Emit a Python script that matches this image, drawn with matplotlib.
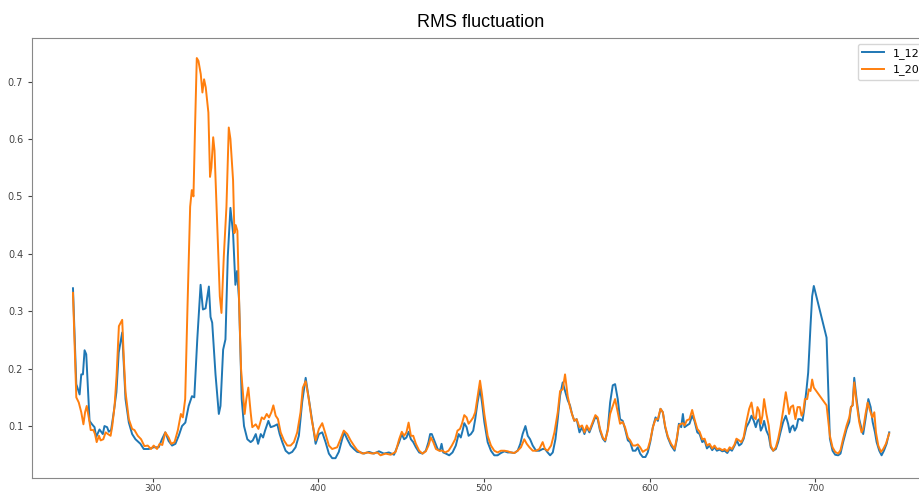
import matplotlib.pyplot as plt

# Valores (RMSF por residuo)
x_1_12 = [252, 254, 256, 257, 258, 259, 260, 262, 263.5, 265, 266, 268, 270, 271, 272.6, 273.6, 275,
          276.6, 278.2, 279.6, 281.7, 283.7, 285.7, 287.7, 289.7, 292.7, 294.7, 297.7, 300.7, 303.7,
          305.7, 307.7, 309.7, 311.8, 313.8, 315.8, 317.8, 319.8, 321.8, 323.8, 325.2, 327.0, 329.0,
          330.4, 332.0, 334.0, 335.0, 336.0, 338.0, 340.0, 341.0, 342.6, 344.0, 345.4, 347.0, 348.6,
          350.0, 351.0, 352.2, 353.8, 355.2, 357.2, 359.2, 360.5, 362.3, 363.7, 365.3, 366.7, 367.9,
          369.9, 371.3, 373.3, 375.3, 376.7, 378.3, 380.3, 382.3, 384.3, 386.3, 388.3, 390.3, 392.4,
          394.4, 396.4, 398.4, 400.4, 402.4, 404.4, 406.4, 408.4, 410.4, 412.4, 414.4, 415.6, 417.5,
          419.5, 421.5, 423.5, 425.6, 427.6, 430.6, 433.6, 436.6, 439.6, 442.6, 445.7, 448.8, 450.4,
          451.8, 453.2, 454.5, 455.9, 457.3, 458.9, 460.9, 462.9, 464.9, 466.5, 467.5, 468.5, 470,
          472, 473.4, 474.4, 475.4, 477, 479, 481, 483, 484.7, 486, 487.1, 488.1, 489.5, 490.7, 492.1,
          493.5, 494.7, 496.1, 497.6, 498.8, 500.2, 502.2, 504.2, 506.2, 508.2, 510.2, 512.3, 514.3,
          516.3, 518.3, 520.3, 521.9, 523.3, 525, 526.4, 527.8, 529.4, 531.4, 533.4, 535.4, 536.8,
          538.4, 539.9, 541.5, 543.1, 544.5, 545.9, 547.5, 548.9, 550.5, 551.9, 553.1, 554.5, 555.9,
          557.6, 559.2, 560.6, 562, 563.6, 565.2, 567.2, 568.6, 570, 571.7, 573.1, 574.7, 576.1,
          577.7, 579.1, 580.7, 582.1, 583.7, 585.1, 586.8, 588.2, 589.8, 591.4, 592.8, 594.2, 595.8,
          597.4, 598.8, 600.3, 601.9, 603.5, 604.9, 606.5, 607.9, 609.3, 610.9, 612.9, 615, 616.4,
          617.6, 619, 620, 621, 622.4, 624, 625.6, 627, 628.7, 630.1, 631.7, 633.1, 634.5, 636.1,
          637.7, 639.1, 640.5, 642.1, 643.8, 645.2, 646.8, 648.2, 649.6, 651.2, 652.6, 653.9, 655.3,
          656.7, 658.3, 660, 661.4, 662.8, 664, 665, 666, 667, 668, 669, 670.4, 671.8, 673, 674.5,
          676.1, 677.5, 678.9, 680.5, 682.1, 683.5, 684.5, 685.5, 686.5, 687.5, 688.6, 689.6, 691,
          692.2, 693.2, 694.6, 695.6, 697, 698, 699, 706.7, 708.7, 710.3, 711.9, 713.7, 715.1, 716.7,
          718.8, 720.4, 721.4, 722.4, 723.4, 724.8, 726.4, 727.8, 728.8, 730.2, 731.9, 733.3, 734.5,
          735.9, 736.9, 738.5, 739.9, 741.3, 742.9, 744.5]
y_1_12 = [0.340, 0.173, 0.155, 0.190, 0.190, 0.232, 0.225, 0.109, 0.103, 0.098, 0.081, 0.094, 0.086,
          0.100, 0.098, 0.090, 0.093, 0.124, 0.159, 0.228, 0.263, 0.147, 0.106, 0.086, 0.077, 0.069,
          0.060, 0.060, 0.063, 0.063, 0.077, 0.089, 0.074, 0.066, 0.069, 0.083, 0.100, 0.106, 0.135,
          0.152, 0.150, 0.251, 0.346, 0.303, 0.305, 0.343, 0.290, 0.280, 0.190, 0.121, 0.135, 0.233,
          0.251, 0.395, 0.480, 0.436, 0.346, 0.370, 0.320, 0.147, 0.100, 0.077, 0.072, 0.075, 0.086,
          0.069, 0.086, 0.080, 0.092, 0.109, 0.098, 0.100, 0.103, 0.086, 0.072, 0.057, 0.052, 0.055,
          0.063, 0.083, 0.142, 0.184, 0.146, 0.107, 0.069, 0.086, 0.089, 0.072, 0.052, 0.044, 0.044,
          0.055, 0.077, 0.089, 0.077, 0.066, 0.060, 0.055, 0.054, 0.052, 0.055, 0.052, 0.056, 0.052,
          0.054, 0.050, 0.072, 0.086, 0.077, 0.080, 0.090, 0.077, 0.072, 0.063, 0.054, 0.052, 0.057,
          0.072, 0.086, 0.086, 0.075, 0.060, 0.057, 0.069, 0.054, 0.052, 0.049, 0.054, 0.066, 0.086,
          0.080, 0.092, 0.105, 0.098, 0.083, 0.086, 0.092, 0.112, 0.141, 0.165, 0.141, 0.107, 0.072,
          0.057, 0.049, 0.049, 0.053, 0.056, 0.054, 0.054, 0.053, 0.057, 0.069, 0.086, 0.100, 0.083,
          0.077, 0.066, 0.057, 0.057, 0.060, 0.060, 0.054, 0.049, 0.054, 0.077, 0.112, 0.153, 0.176,
          0.161, 0.145, 0.136, 0.121, 0.109, 0.112, 0.089, 0.098, 0.086, 0.098, 0.089, 0.101, 0.116,
          0.112, 0.092, 0.078, 0.073, 0.095, 0.141, 0.171, 0.173, 0.147, 0.112, 0.109, 0.095, 0.075,
          0.072, 0.057, 0.057, 0.063, 0.052, 0.046, 0.046, 0.054, 0.072, 0.098, 0.115, 0.109, 0.130,
          0.124, 0.098, 0.080, 0.066, 0.057, 0.077, 0.104, 0.098, 0.121, 0.098, 0.101, 0.104, 0.118,
          0.109, 0.089, 0.086, 0.072, 0.075, 0.061, 0.066, 0.058, 0.063, 0.057, 0.059, 0.056, 0.057,
          0.053, 0.060, 0.057, 0.066, 0.075, 0.066, 0.069, 0.078, 0.098, 0.107, 0.118, 0.109, 0.098,
          0.109, 0.112, 0.092, 0.098, 0.109, 0.092, 0.083, 0.063, 0.057, 0.060, 0.072, 0.089, 0.107,
          0.118, 0.104, 0.089, 0.098, 0.101, 0.092, 0.098, 0.112, 0.112, 0.109, 0.129, 0.164, 0.193,
          0.274, 0.326, 0.344, 0.254, 0.078, 0.057, 0.050, 0.049, 0.052, 0.072, 0.095, 0.107, 0.133,
          0.136, 0.184, 0.147, 0.112, 0.095, 0.086, 0.112, 0.147, 0.133, 0.107, 0.089, 0.072, 0.057,
          0.049, 0.057, 0.069, 0.089]

x_1_20 = [252, 254, 255.5, 257, 258.3, 259.3, 260.3, 261.7, 262.7, 264.3, 265.3, 266.3, 267.7, 268.7,
          270.3, 271.7, 273.1, 274.7, 275.7, 277.1, 278.3, 279.7, 281.7, 282.7, 283.7, 285.7, 287.7,
          289.1, 291.1, 293.1, 295.1, 297.1, 299.1, 300.7, 302.7, 304.3, 305.9, 307.7, 309.7, 311.3,
          313.3, 315.3, 317.1, 318.3, 319.7, 321.1, 322.7, 323.7, 324.7, 325.7, 326.7, 327.7, 329.1,
          330.1, 331.1, 332.1, 333.7, 334.7, 335.5, 336.6, 337.4, 339.0, 340.6, 341.6, 343.0, 344.6,
          346.0, 347.0, 348.6, 349.4, 350.2, 351.2, 352.4, 353.4, 354.2, 355.6, 356.6, 357.8, 359.2,
          360.2, 362.3, 363.9, 365.9, 367.3, 368.9, 370.3, 371.7, 372.9, 374.3, 375.7, 377.3, 379.3,
          381.3, 383.3, 385.3, 387.3, 389.3, 390.7, 392.4, 394.0, 396, 398.4, 400.4, 402.4, 404.4,
          406.4, 408.4, 411.4, 413.4, 415.4, 417.5, 419.5, 421.5, 423.5, 426.6, 429.6, 432.6, 435.6,
          437.6, 440.6, 443.7, 446.7, 448.8, 450.4, 451.8, 453.2, 454.5, 455.9, 457.3, 458.9, 460.9,
          462.9, 464.9, 466.5, 467.9, 469.4, 471, 473, 475, 476.6, 478.6, 480.6, 482.6, 484, 485.5,
          486.7, 488.1, 489.5, 490.7, 492.1, 493.5, 494.7, 496.1, 497.6, 498.8, 500.2, 502.2, 504.2,
          506.2, 508.2, 510.2, 512.3, 514.3, 516.3, 518.3, 520.3, 522.3, 524.3, 525.8, 527.4, 529.4,
          531.4, 533.4, 535.4, 536.8, 538.4, 540.5, 542.5, 544.5, 545.9, 547.5, 548.9, 550.5, 551.9,
          553.1, 554.5, 555.9, 557.6, 559.2, 560.6, 562, 563.6, 565.2, 567.2, 568.6, 570, 571.7,
          573.1, 574.7, 576.1, 577.7, 579.1, 580.7, 582.1, 583.7, 585.1, 586.8, 588.2, 589.8, 591.4,
          592.8, 594.2, 595.8, 597.4, 598.8, 600.3, 601.9, 603.5, 604.9, 606.5, 607.9, 609.3, 610.9,
          612.9, 615, 616.4, 617.6, 619, 620, 621, 622.4, 624, 625.6, 627, 628.7, 630.1, 631.7,
          633.1, 634.5, 636.1, 637.7, 639.1, 640.5, 642.1, 643.8, 645.2, 646.8, 648.2, 649.6, 651.2,
          652.3, 653.9, 655.3, 656.7, 658.3, 660, 661.4, 662.8, 664, 665, 666, 667, 668, 669, 670.4,
          671.8, 673, 674.5, 676.1, 677.5, 678.9, 680.5, 682.1, 683.1, 684.1, 685.1, 686.5, 687.9,
          689.2, 690.6, 691.6, 692.6, 693.6, 695, 696, 697, 698, 699, 706.7, 708.7, 710.3, 711.9,
          713.7, 715.1, 716.7, 718.8, 720.4, 721.4, 722.4, 723.4, 724.8, 726.4, 727.8, 728.8, 730.2,
          731.5, 732.9, 734.3, 735.5, 736.5, 737.9, 739.5, 740.9, 742.5, 744.5]
y_1_20 = [0.332, 0.150, 0.141, 0.124, 0.103, 0.124, 0.135, 0.112, 0.093, 0.093, 0.086, 0.072, 0.083,
          0.075, 0.077, 0.089, 0.086, 0.083, 0.100, 0.135, 0.187, 0.274, 0.285, 0.216, 0.159, 0.112,
          0.095, 0.093, 0.083, 0.077, 0.065, 0.066, 0.060, 0.066, 0.060, 0.069, 0.067, 0.089, 0.080,
          0.069, 0.072, 0.093, 0.121, 0.115, 0.147, 0.308, 0.482, 0.511, 0.500, 0.626, 0.741, 0.736,
          0.713, 0.681, 0.704, 0.690, 0.646, 0.534, 0.550, 0.603, 0.580, 0.453, 0.326, 0.297, 0.395,
          0.482, 0.620, 0.600, 0.528, 0.436, 0.450, 0.440, 0.300, 0.200, 0.170, 0.121, 0.147, 0.167,
          0.124, 0.098, 0.103, 0.095, 0.115, 0.112, 0.121, 0.115, 0.124, 0.136, 0.118, 0.112, 0.089,
          0.075, 0.066, 0.066, 0.072, 0.089, 0.124, 0.167, 0.178, 0.152, 0.112, 0.075, 0.095, 0.105,
          0.086, 0.066, 0.060, 0.063, 0.077, 0.092, 0.086, 0.075, 0.066, 0.058, 0.052, 0.054, 0.052,
          0.054, 0.049, 0.052, 0.050, 0.055, 0.077, 0.090, 0.083, 0.089, 0.106, 0.083, 0.083, 0.069,
          0.057, 0.052, 0.056, 0.066, 0.080, 0.072, 0.060, 0.057, 0.057, 0.054, 0.057, 0.066, 0.077,
          0.092, 0.095, 0.104, 0.119, 0.115, 0.104, 0.109, 0.115, 0.124, 0.150, 0.179, 0.155, 0.121,
          0.083, 0.066, 0.057, 0.054, 0.057, 0.057, 0.056, 0.054, 0.053, 0.057, 0.063, 0.077, 0.069,
          0.063, 0.057, 0.057, 0.060, 0.072, 0.060, 0.057, 0.066, 0.089, 0.124, 0.161, 0.164, 0.190,
          0.152, 0.133, 0.121, 0.109, 0.112, 0.098, 0.101, 0.089, 0.101, 0.092, 0.104, 0.119, 0.115,
          0.095, 0.080, 0.075, 0.092, 0.121, 0.135, 0.147, 0.124, 0.104, 0.107, 0.098, 0.080, 0.075,
          0.066, 0.066, 0.068, 0.063, 0.055, 0.058, 0.060, 0.075, 0.098, 0.112, 0.112, 0.130, 0.124,
          0.100, 0.082, 0.069, 0.060, 0.080, 0.101, 0.104, 0.105, 0.101, 0.110, 0.112, 0.128, 0.112,
          0.095, 0.090, 0.077, 0.078, 0.066, 0.069, 0.061, 0.066, 0.060, 0.061, 0.058, 0.060, 0.056,
          0.063, 0.060, 0.068, 0.078, 0.075, 0.072, 0.081, 0.107, 0.130, 0.141, 0.115, 0.112, 0.133,
          0.127, 0.104, 0.118, 0.147, 0.121, 0.101, 0.066, 0.057, 0.063, 0.078, 0.098, 0.127, 0.159,
          0.141, 0.121, 0.133, 0.136, 0.112, 0.133, 0.133, 0.118, 0.124, 0.147, 0.147, 0.164, 0.161,
          0.181, 0.167, 0.136, 0.083, 0.063, 0.055, 0.052, 0.058, 0.078, 0.101, 0.115, 0.133, 0.136,
          0.176, 0.141, 0.107, 0.089, 0.095, 0.121, 0.141, 0.127, 0.115, 0.124, 0.089, 0.066, 0.055,
          0.060, 0.069, 0.087]

fig = plt.figure(figsize=(9.19, 4.94), dpi=100)
# el eje se sale un poco por la derecha, como en la imagen original (recortada)
ax = fig.add_axes([0.035, 0.032, 0.977, 0.891])

ax.plot(x_1_12, y_1_12, color='#1f77b4', linewidth=1.4, label='1_12')
ax.plot(x_1_20, y_1_20, color='#ff7f0e', linewidth=1.4, label='1_20')

ax.set_title("RMS fluctuation", fontsize=13, family='Liberation Sans', pad=8)
ax.tick_params(labelsize=7, colors='#444444', length=3)
ax.tick_params(axis='x', pad=1.5, labelsize=6.5)
for s in ax.spines.values():
    s.set_color('#888888')

ax.legend(loc='upper right', fontsize=8)

plt.savefig("out.png", dpi=100)
